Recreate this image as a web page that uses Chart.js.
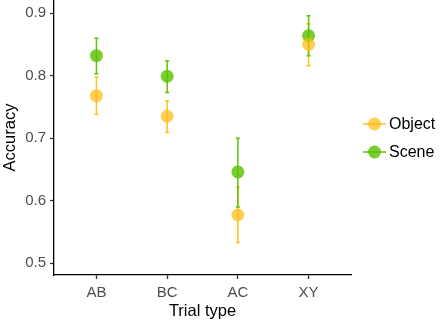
<!DOCTYPE html>
<html>
<head>
<meta charset="utf-8">
<script src="https://cdn.jsdelivr.net/npm/chart.js@4"></script>
<style>
  html, body { margin: 0; padding: 0; background: #fff; }
  #wrap { width: 440px; height: 323px; }
</style>
</head>
<body>
<div id="wrap"><canvas id="chartAcc"></canvas></div>
<script>
const trialTypes = ["AB", "BC", "AC", "XY"];
const yTicks = [0.5, 0.6, 0.7, 0.8, 0.9];

const objectMean = [0.768, 0.735, 0.577, 0.850];
const objectLow  = [0.738, 0.709, 0.533, 0.816];
const objectHigh = [0.798, 0.760, 0.622, 0.883];

const sceneMean = [0.832, 0.799, 0.646, 0.864];
const sceneLow  = [0.803, 0.773, 0.590, 0.832];
const sceneHigh = [0.860, 0.824, 0.700, 0.896];

const chartAcc = document.getElementById("chartAcc");
const fontFam = "'Liberation Sans', Arial, sans-serif";

function toPoints(arr) {
	return arr.map(function(v, i){ return { x: i, y: v }; });
}

// error bars, drawn under the points
const errorBars = {
	id: "errorBars",
	beforeDatasetsDraw(chart) {
		const ctx = chart.ctx;
		const xs = chart.scales.x, ys = chart.scales.y;
		chart.data.datasets.forEach(function(ds){
			ctx.save();
			ctx.strokeStyle = ds.barColor;
			ctx.lineWidth = 1.5;
			ds.low.forEach(function(lo, i){
				const x = xs.getPixelForValue(i);
				const y1 = ys.getPixelForValue(lo);
				const y2 = ys.getPixelForValue(ds.high[i]);
				ctx.beginPath();
				ctx.moveTo(x, y1); ctx.lineTo(x, y2);
				ctx.moveTo(x - 2, y1); ctx.lineTo(x + 2, y1);
				ctx.moveTo(x - 2, y2); ctx.lineTo(x + 2, y2);
				ctx.stroke();
			});
			ctx.restore();
		});
	}
};

// legend on the right, line + dot like ggplot
const sideLegend = {
	id: "sideLegend",
	afterDraw(chart) {
		const ctx = chart.ctx;
		chart.data.datasets.forEach(function(ds, k){
			const y = 124 + k * 28;
			ctx.save();
			ctx.strokeStyle = ds.barColor;
			ctx.lineWidth = 1.5;
			ctx.beginPath();
			ctx.moveTo(363, y); ctx.lineTo(386, y);
			ctx.stroke();
			ctx.fillStyle = ds.pointBackgroundColor;
			ctx.beginPath();
			ctx.arc(374.5, y, 6.5, 0, Math.PI * 2);
			ctx.fill();
			ctx.fillStyle = "#000";
			ctx.font = "16px " + fontFam;
			ctx.textBaseline = "middle";
			ctx.fillText(ds.label, 389, y + 1);
			ctx.restore();
		});
	}
};

const accChart = new Chart(chartAcc, {
	type: "scatter",
	data: {
		datasets: [{
			label: "Object",
			data: toPoints(objectMean),
			low: objectLow,
			high: objectHigh,
			barColor: "#FFC21F",
			pointBackgroundColor: "rgba(255,188,20,0.72)",
			pointBorderWidth: 0,
			pointRadius: 6.5,
			pointHoverRadius: 6.5
		}, {
			label: "Scene",
			data: toPoints(sceneMean),
			low: sceneLow,
			high: sceneHigh,
			barColor: "#5CC400",
			pointBackgroundColor: "rgba(92,194,0,0.82)",
			pointBorderWidth: 0,
			pointRadius: 6.5,
			pointHoverRadius: 6.5
		}]
	},
	options: {
		responsive: true,
		maintainAspectRatio: false,
		animation: false,
		layout: { autoPadding: false, padding: { top: 0, left: 1, right: 89, bottom: 2 } },
		plugins: {
			legend: { display: false },
			tooltip: { enabled: false }
		},
		scales: {
			x: {
				type: "linear",
				min: -0.6,
				max: 3.6,
				afterBuildTicks: function(axis){
					axis.ticks = trialTypes.map(function(t, i){ return { value: i }; });
				},
				afterFit: function(axis){
					axis.height = 46;
					axis.paddingLeft = 0;
					axis.paddingRight = 0;
				},
				grid: {
					drawOnChartArea: false,
					color: "#333",
					tickLength: 4,
					tickWidth: 1.3
				},
				border: { color: "#000", width: 1.3 },
				ticks: {
					color: "#4D4D4D",
					padding: 5,
					font: { family: fontFam, size: 15 },
					callback: function(v){ return trialTypes[v]; }
				},
				title: {
					display: true,
					text: "Trial type",
					color: "#000",
					padding: { top: 0, bottom: 0 },
					font: { family: fontFam, size: 16.5 }
				}
			},
			y: {
				min: 0.481,
				max: 0.921,
				afterBuildTicks: function(axis){
					axis.ticks = yTicks.map(function(v){ return { value: v }; });
				},
				afterFit: function(axis){
					axis.width = 53;
					axis.paddingTop = 0;
					axis.paddingBottom = 0;
				},
				grid: {
					drawOnChartArea: false,
					color: "#333",
					tickLength: 4,
					tickWidth: 1.3
				},
				border: { color: "#000", width: 1.3 },
				ticks: {
					color: "#4D4D4D",
					padding: 4,
					font: { family: fontFam, size: 15 },
					callback: function(v){ return v.toFixed(1); }
				},
				title: {
					display: true,
					text: "Accuracy",
					color: "#000",
					padding: { top: 0, bottom: 0 },
					font: { family: fontFam, size: 16.5 }
				}
			}
		}
	},
	plugins: [errorBars, sideLegend]
});
</script>
</body>
</html>
